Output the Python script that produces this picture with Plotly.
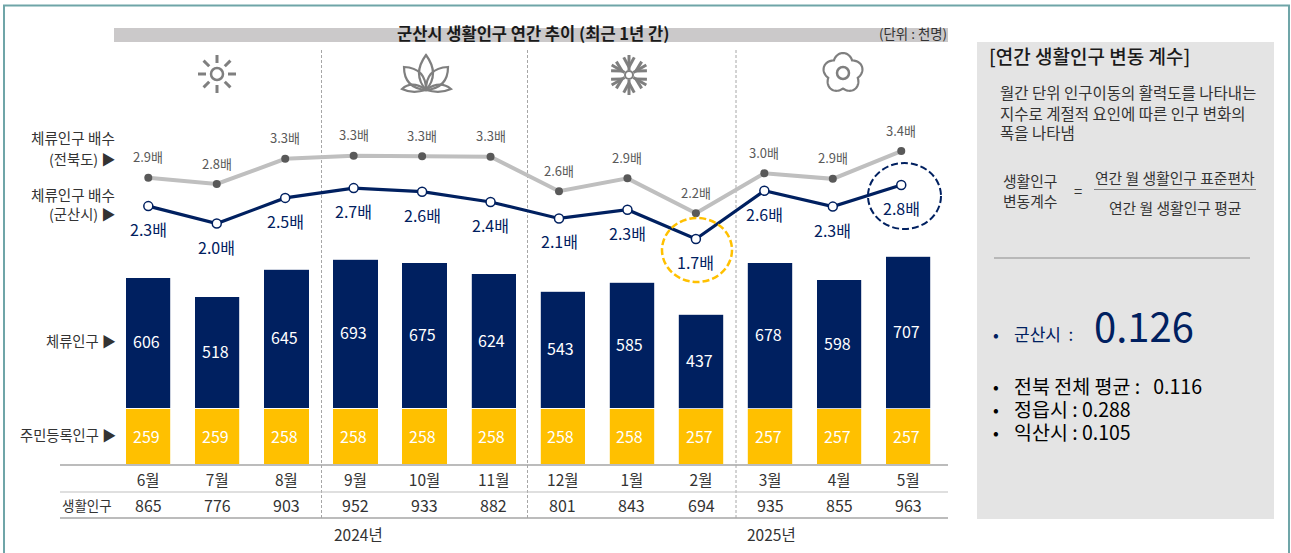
import math
import plotly.graph_objects as go

W, H = 1291, 553
FONT = "Noto Sans CJK KR"

months = ["6월", "7월", "8월", "9월", "10월", "11월", "12월", "1월", "2월", "3월", "4월", "5월"]
registered = [259, 259, 258, 258, 258, 258, 258, 258, 257, 257, 257, 257]
stay = [606, 518, 645, 693, 675, 624, 543, 585, 437, 678, 598, 707]
living = [865, 776, 903, 952, 933, 882, 801, 843, 694, 935, 855, 963]
ratio_gunsan = [2.34, 2.00, 2.50, 2.69, 2.62, 2.42, 2.10, 2.27, 1.70, 2.64, 2.33, 2.75]
ratio_jeonbuk = [2.89, 2.77, 3.26, 3.32, 3.31, 3.30, 2.63, 2.88, 2.20, 2.98, 2.87, 3.41]

NAVY = "#002060"
YELLOW = "#FFC000"
DARK = "#333333"
GRAY = "#7F7F7F"


def fx(x):
    return x / W


def fy(y):
    return 1 - y / H


def P(x, y):
    return f"{fx(x):.5f},{fy(y):.5f}"


shapes = []
annotations = []


def line(x0, y0, x1, y1, color, width=1, dash="solid", layer="below"):
    shapes.append(dict(type="line", xref="paper", yref="paper", x0=fx(x0), y0=fy(y0), x1=fx(x1), y1=fy(y1),
                       line=dict(color=color, width=width, dash=dash), layer=layer))


def rect(x0, y0, x1, y1, fill):
    shapes.append(dict(type="rect", xref="paper", yref="paper", x0=fx(x0), y0=fy(y0), x1=fx(x1), y1=fy(y1),
                       fillcolor=fill, line=dict(width=0), layer="below"))


def ellipse(x0, y0, x1, y1, color, width=2, fill="rgba(0,0,0,0)", dash="solid"):
    shapes.append(dict(type="circle", xref="paper", yref="paper", x0=fx(x0), y0=fy(y0), x1=fx(x1), y1=fy(y1),
                       fillcolor=fill, line=dict(color=color, width=width, dash=dash), layer="above"))


def path(d, color=GRAY, width=2, fill="rgba(0,0,0,0)"):
    shapes.append(dict(type="path", xref="paper", yref="paper", path=d, fillcolor=fill,
                       line=dict(color=color, width=width), layer="above"))


def txt(x, y, s, size=14, color=DARK, anchor="center", weight=None, family=FONT):
    f = dict(family=family, size=size, color=color)
    if weight:
        f["weight"] = weight
    annotations.append(dict(xref="paper", yref="paper", x=fx(x), y=fy(y), text=s, showarrow=False,
                            xanchor=anchor, yanchor="middle", font=f, align="left"))


# frame, title bar, side panel
path(f"M{P(4,553)} L{P(4,5.5)} L{P(1289,5.5)} L{P(1289,553)}", color="#6FA5A8", width=2)
rect(114, 28, 948, 42, "#CBC9CA")
rect(977, 42, 1274, 519, "#E4E4E4")

# season separators
for sx in (321.5, 527.5, 736):
    line(sx, 50, sx, 518, "#A6A6A6", 1, "3px,2px")

# table rules
line(60, 465, 948, 465, "#A6A6A6", 1.5)
line(60, 492, 948, 492, "#BFBFBF", 1)
line(60, 518, 948, 518, "#A6A6A6", 1.5)

# season icons
cx, cy = 217, 74
ellipse(cx - 6, cy - 6, cx + 6, cy + 6, GRAY, 2.5)
for i in range(8):
    a = i * math.pi / 4
    line(cx + 11 * math.cos(a), cy + 11 * math.sin(a), cx + 19 * math.cos(a), cy + 19 * math.sin(a), GRAY, 3, layer="above")

path(f"M{P(426,90)} Q{P(412,74)} {P(426,55)} Q{P(440,74)} {P(426,90)} Z", width=2.2)
path(f"M{P(426,90)} Q{P(404,88)} {P(404,67)} Q{P(426,68)} {P(426,90)} Z", width=2.2)
path(f"M{P(426,90)} Q{P(448,88)} {P(448,67)} Q{P(426,68)} {P(426,90)} Z", width=2.2)
path(f"M{P(426,90)} Q{P(412,80)} {P(402,89)} Q{P(412,94)} {P(426,90)} Z", width=2.2)
path(f"M{P(426,90)} Q{P(440,80)} {P(451,89)} Q{P(440,94)} {P(426,90)} Z", width=2.2)

cx, cy = 629, 75
ellipse(cx - 4, cy - 4, cx + 4, cy + 4, GRAY, 2)
for i in range(6):
    a = math.pi / 2 + i * math.pi / 3
    ux, uy = math.cos(a), math.sin(a)
    line(cx + 5 * ux, cy + 5 * uy, cx + 20 * ux, cy + 20 * uy, GRAY, 3, layer="above")
    for s in (-0.5, 0.5):
        vx, vy = math.cos(a + s), math.sin(a + s)
        line(cx + 8 * ux, cy + 8 * uy, cx + 8 * ux + 11 * vx, cy + 8 * uy + 11 * vy, GRAY, 3, layer="above")

cx, cy = 843, 73
pts = []
for i in range(121):
    t = i / 120 * 2 * math.pi
    r = 15.5 + 4.5 * abs(math.cos(2.5 * (t + math.pi / 2)))
    pts.append(P(cx + r * math.cos(t), cy + r * math.sin(t)))
path("M" + " L".join(pts) + " Z", width=2.2)
ellipse(cx - 6, cy - 6, cx + 6, cy + 6, GRAY, 2.5)

# highlight circles
ellipse(662, 218, 732, 282, YELLOW, 2.5, dash="7px,3px")
ellipse(868, 163, 941, 229, NAVY, 2, dash="7px,3px")

# title
txt(533, 33, "군산시 생활인구 연간 추이 (최근 1년 간)", 16.5, "#1A1A1A", weight=700)
txt(913, 33, "(단위 : 천명)", 13.4, DARK)

# left row labels
for y, s in [(138, "체류인구 배수"), (194, "체류인구 배수")]:
    txt(117, y, s, 14.6, DARK, "right")
for y, s in [(158, "(전북도) ▶"), (214, "(군산시) ▶"), (340, "체류인구 ▶"), (434, "주민등록인구 ▶")]:
    txt(118, y, s, 14.3, DARK, "right")
txt(87, 505, "생활인구", 13.5, DARK)

# years
txt(358, 534, "2024년", 15.5, DARK)
txt(771, 534, "2025년", 15.5, DARK)

# panel text
txt(987, 56, "[연간 생활인구 변동 계수]", 19, "#1A1A1A", "left", weight=500)
for y, s in [(92.5, "월간 단위 인구이동의 활력도를 나타내는"), (112.5, "지수로 계절적 요인에 따른 인구 변화의"), (132, "폭을 나타냄")]:
    txt(998, y, s, 15.5, DARK, "left")
txt(1030, 181, "생활인구", 14.8, DARK)
txt(1030, 200, "변동계수", 14.8, DARK)
txt(1078, 190, "=", 14.8, DARK)
txt(1175, 177, "연간 월 생활인구 표준편차", 14.8, DARK)
line(1094, 189.5, 1256, 189.5, "#7F7F7F", 1)
txt(1175, 207, "연간 월 생활인구 평균", 14.8, DARK)
line(994, 258, 1250, 258, "#8C8C8C", 1)
txt(991, 333, "•", 17, NAVY, "left")
txt(1012, 333, "군산시  :", 17, NAVY, "left")
txt(1092, 325, "0.126", 40, NAVY, "left")
for y, s in [(385, "전북 전체 평균 :   0.116"), (408, "정읍시 : 0.288"), (431, "익산시 : 0.105")]:
    txt(991, y, "•", 17, "#000000", "left")
    txt(1012, y, s, 19.5, "#000000", "left")

fig = go.Figure()
fig.add_bar(x=months, y=registered, marker=dict(color=YELLOW, line=dict(color="white", width=0.8)),
            xaxis="x", yaxis="y", showlegend=False)
fig.add_bar(x=months, y=stay, marker=dict(color=NAVY, line=dict(color="white", width=0.8)),
            xaxis="x", yaxis="y", showlegend=False)
fig.add_scatter(x=months, y=ratio_jeonbuk, mode="lines+markers", xaxis="x2", yaxis="y2", showlegend=False,
                line=dict(color="#BFBFBF", width=4), marker=dict(color="#595959", size=8))
fig.add_scatter(x=months, y=ratio_gunsan, mode="lines+markers", xaxis="x2", yaxis="y2", showlegend=False,
                line=dict(color=NAVY, width=3.2), marker=dict(color="white", size=9, line=dict(color=NAVY, width=1.5)))

for i, m in enumerate(months):
    annotations.append(dict(xref="x", yref="y", x=m, y=registered[i] / 2, text=str(registered[i]), showarrow=False,
                            xshift=-2, font=dict(family=FONT, size=16, color="white")))
    annotations.append(dict(xref="x", yref="y", x=m, y=registered[i] + stay[i] / 2, text=str(stay[i]), showarrow=False,
                            xshift=-2, yshift=1.5, font=dict(family=FONT, size=16, color="white")))
    annotations.append(dict(xref="x", yref="paper", x=m, y=fy(504.5), text=str(living[i]), showarrow=False, yanchor="middle",
                            font=dict(family=FONT, size=16, color=DARK)))
    annotations.append(dict(xref="x2", yref="y2", x=m, y=ratio_gunsan[i], text=f"{ratio_gunsan[i]:.1f}배", showarrow=False,
                            yshift=-23, font=dict(family=FONT, size=16, color=NAVY)))
    annotations.append(dict(xref="x2", yref="y2", x=m, y=ratio_jeonbuk[i], text=f"{ratio_jeonbuk[i]:.1f}배", showarrow=False,
                            yshift=21, font=dict(family=FONT, size=13, color="#595959")))

dom_x = [fx(114), fx(948)]
dom_y = [fy(464), fy(44)]
fig.update_layout(
    width=W, height=H, autosize=False, margin=dict(l=0, r=0, t=0, b=0, pad=0),
    paper_bgcolor="white", plot_bgcolor="rgba(0,0,0,0)", barmode="stack", bargap=0.345, showlegend=False,
    xaxis=dict(domain=dom_x, type="category", categoryorder="array", categoryarray=months,
               range=[(114 - 148.2) / 69.1, (948 - 148.2) / 69.1], showgrid=False, zeroline=False, showline=False,
               ticks="", ticklabelstandoff=5, tickfont=dict(family=FONT, size=15.5, color=DARK), fixedrange=True),
    yaxis=dict(domain=dom_y, range=[0, 420 / 0.2155], visible=False, fixedrange=True),
    xaxis2=dict(domain=dom_x, type="category", categoryorder="array", categoryarray=months, overlaying="x",
                range=[(114 - 148.3) / 68.45, (948 - 148.3) / 68.45], visible=False, fixedrange=True),
    yaxis2=dict(domain=dom_y, overlaying="y", range=[1.70 - 225 / 51.4, 1.70 + 195 / 51.4], visible=False, fixedrange=True),
    shapes=shapes, annotations=annotations, font=dict(family=FONT),
)
fig.write_html("out.html", config=dict(displayModeBar=False),
               post_script="document.body.style.margin='0';document.body.style.overflow='hidden';")
